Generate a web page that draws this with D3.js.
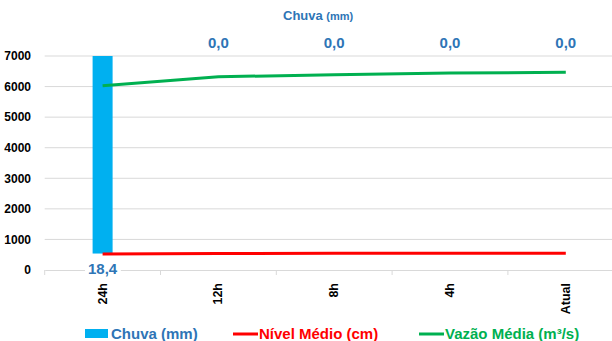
<!DOCTYPE html>
<html>
<head>
<meta charset="utf-8">
<script src="https://cdn.jsdelivr.net/npm/d3@7"></script>
<style>
  body { margin: 0; background: #fff; }
  text { font-family: "Liberation Sans", Arial, sans-serif; font-weight: bold; }
</style>
</head>
<body>
<svg id="chart"></svg>
<script>
// data
const periods = ["24h", "12h", "8h", "4h", "Atual"];
const chuva = [18.4, 0, 0, 0, 0];
const nivel = [525, 540, 545, 545, 545];
const vazao = [6030, 6320, 6390, 6440, 6470];
const yTicks = [0, 1000, 2000, 3000, 4000, 5000, 6000, 7000];

let width = 612,
  height = 341;

let svg = d3.select("#chart").attr("width", width).attr("height", height);

// plot area runs past the right edge, as in the original
let xScale = d3.scaleBand().domain(periods).range([44.7, 623.7]);
let yScale = d3.scaleLinear().domain([0, 7000]).range([270, 56]);
// hidden secondary axis for rain
let y2Scale = d3.scaleLinear().domain([-0.5, 6]).range([270, 56]);

let cx = (d) => xScale(d) + xScale.bandwidth() / 2;

// gridlines
svg
  .append("g")
  .selectAll("line")
  .data(yTicks.filter((d) => d > 0))
  .enter()
  .append("line")
  .attr("x1", 44.7)
  .attr("x2", width)
  .attr("y1", (d) => yScale(d))
  .attr("y2", (d) => yScale(d))
  .attr("stroke", "#d9d9d9")
  .attr("stroke-width", 1);

// x axis
let xAxis = svg
  .append("g")
  .attr("transform", `translate(0, ${yScale(0)})`)
  .call(d3.axisBottom(xScale).tickSize(0).tickFormat(""));
xAxis.select(".domain").attr("stroke", "#d9d9d9");
xAxis
  .selectAll(".sep")
  .data(d3.range(periods.length + 1))
  .enter()
  .append("line")
  .attr("class", "sep")
  .attr("x1", (i) => 44.7 + i * xScale.step())
  .attr("x2", (i) => 44.7 + i * xScale.step())
  .attr("y1", 0)
  .attr("y2", 5)
  .attr("stroke", "#d9d9d9");

svg
  .selectAll(".xlab")
  .data(periods)
  .enter()
  .append("text")
  .attr("class", "xlab")
  .attr("transform", (d) => `translate(${cx(d) + 4}, 283) rotate(-90)`)
  .attr("text-anchor", "end")
  .attr("font-size", "12.5px")
  .attr("fill", "#000")
  .text((d) => d);

// y axis
let yAxis = svg
  .append("g")
  .attr("transform", "translate(31, 0)")
  .call(
    d3
      .axisLeft(yScale)
      .tickValues(yTicks)
      .tickFormat(d3.format("d"))
      .tickSize(0)
      .tickPadding(0)
  );
yAxis.select(".domain").remove();
yAxis
  .selectAll("text")
  .attr("font-size", "12px")
  .attr("fill", "#000")
  .attr("font-family", "Liberation Sans, Arial, sans-serif")
  .attr("font-weight", "bold");

// rain bar, clipped at the plot top
svg
  .append("clipPath")
  .attr("id", "plotclip")
  .append("rect")
  .attr("x", 0)
  .attr("y", 56)
  .attr("width", width)
  .attr("height", 214);

svg
  .append("g")
  .attr("clip-path", "url(#plotclip)")
  .selectAll("rect")
  .data(periods)
  .enter()
  .append("rect")
  .attr("x", (d) => cx(d) - 10)
  .attr("y", (d, i) => y2Scale(chuva[i]))
  .attr("width", 20)
  .attr("height", (d, i) => Math.max(0, y2Scale(0) - y2Scale(chuva[i])))
  .attr("fill", "#00b0f0");

// lines
let line = (vals) =>
  d3
    .line()
    .x((d, i) => cx(periods[i]))
    .y((d) => yScale(d))(vals);

svg
  .append("path")
  .attr("d", line(nivel))
  .attr("fill", "none")
  .attr("stroke", "#ff0000")
  .attr("stroke-width", 3);

svg
  .append("path")
  .attr("d", line(vazao))
  .attr("fill", "none")
  .attr("stroke", "#00b050")
  .attr("stroke-width", 3);

// rain labels
let fmt = (v) => v.toFixed(1).replace(".", ",");
periods.forEach(function (p, i) {
  let y = chuva[i] > 0 ? 274 : 48;
  let t = svg
    .append("text")
    .attr("x", cx(p))
    .attr("y", y)
    .attr("text-anchor", "middle")
    .attr("font-size", "15px")
    .attr("fill", "#2e75b6")
    .text(fmt(chuva[i]));
  if (chuva[i] > 0) {
    let bb = t.node().getBBox();
    svg
      .insert("rect", () => t.node())
      .attr("x", bb.x - 3)
      .attr("y", bb.y)
      .attr("width", bb.width + 6)
      .attr("height", bb.height)
      .attr("fill", "#fff");
  }
});

// secondary title
let title = svg
  .append("text")
  .attr("x", 283)
  .attr("y", 20)
  .attr("fill", "#2e75b6")
  .attr("font-size", "13px");
title.append("tspan").text("Chuva ");
title.append("tspan").attr("font-size", "11px").text("(mm)");

// legend
const legendItems = [
  { name: "Chuva (mm)", color: "#00b0f0", text: "#2e75b6", x: 85, type: "rect" },
  { name: "Nível Médio (cm)", color: "#ff0000", text: "#ff0000", x: 233, type: "line" },
  { name: "Vazão Média (m³/s)", color: "#00b050", text: "#00b050", x: 419, type: "line" },
];

let legend = svg.append("g");
legendItems.forEach(function (d) {
  if (d.type == "rect") {
    legend
      .append("rect")
      .attr("x", d.x)
      .attr("y", 329)
      .attr("width", 23)
      .attr("height", 9)
      .attr("fill", d.color);
  } else {
    legend
      .append("line")
      .attr("x1", d.x)
      .attr("x2", d.x + 25)
      .attr("y1", 334)
      .attr("y2", 334)
      .attr("stroke", d.color)
      .attr("stroke-width", 3);
  }
  legend
    .append("text")
    .attr("x", d.x + 26)
    .attr("y", 339)
    .attr("font-size", "15px")
    .attr("fill", d.text)
    .text(d.name);
});
</script>
</body>
</html>
